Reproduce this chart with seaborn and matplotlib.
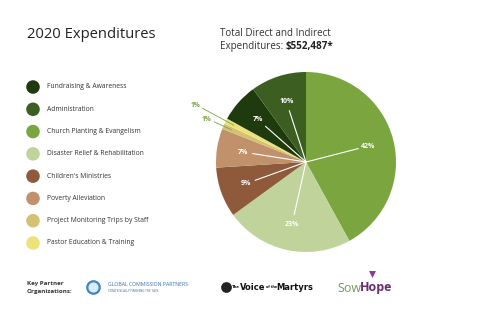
import numpy as np
import matplotlib
matplotlib.use("Agg")
import matplotlib.pyplot as plt
import seaborn as sns

# legend order
categories = ["Fundraising & Awareness", "Administration", "Church Planting & Evangelism",
              "Disaster Relief & Rehabilitation", "Children's Ministries", "Poverty Alleviation",
              "Project Monitoring Trips by Staff", "Pastor Education & Training"]
percents = [7, 10, 42, 23, 9, 7, 1, 1]
colors = ["#1f3b0d", "#3c5f21", "#7ba63f", "#bfd39b", "#8e5a3b", "#c0916a", "#d5c172", "#ece27a"]
title = "2020 Expenditures"
total_line1 = "Total Direct and Indirect"
total_value = "$552,487*"

sns.set_theme(style="white")
plt.rcParams["font.family"] = ["Open Sans", "DejaVu Sans"]

W, H = 480, 320
fig = plt.figure(figsize=(4.8, 3.2), dpi=100)
fig.patch.set_facecolor("white")

# page layer in pixel coordinates
bg = fig.add_axes([0, 0, 1, 1])
bg.set_xlim(0, W)
bg.set_ylim(H, 0)
bg.axis("off")


def after(prev, s, gap=0, **kw):
    # put text s right after the text artist prev
    return bg.annotate(s, xy=(1, 0.5), xycoords=prev, xytext=(gap, 0),
                       textcoords="offset points", va="center", ha="left", **kw)


bg.text(27, 35, title, fontsize=10.6, color="#222222", va="center", ha="left")
bg.text(220, 33, total_line1, fontsize=7.1, color="#333333", va="center")
t = bg.text(220, 46, "Expenditures:", fontsize=7.1, color="#333333", va="center")
after(t, total_value, gap=2, fontsize=7.1, color="#222222", fontweight="bold")

# legend
ys = np.linspace(87, 243, len(categories))
bg.scatter([33] * len(categories), ys, s=95, c=colors, linewidths=0, zorder=3)
for y, name in zip(ys, categories):
    bg.text(47, y, name, fontsize=4.9, color="#333333", va="center")

# partners footer
bg.text(27, 283, "Key Partner", fontsize=4.5, color="#333333", va="center", fontweight="bold")
bg.text(27, 292, "Organizations:", fontsize=4.5, color="#333333", va="center", fontweight="bold")
bg.scatter([93], [287], s=80, facecolors="#dcebf7", edgecolors="#3b86c6", linewidths=1.6)
bg.text(108, 285, "GLOBAL COMMISSION PARTNERS", fontsize=3.7, color="#2f6fae", va="center")
bg.text(108, 290.5, "STRATEGICALLY FINISHING THE TASK", fontsize=2.2, color="#2f6fae", va="center")
bg.scatter([226], [287], s=60, c="#222222", linewidths=0)
cond = ["DejaVu Sans", "DejaVu Sans"]
t = bg.text(232, 287, "The", fontsize=2.8, color="#111111", va="center", fontweight="bold",
            family=cond)
t = after(t, "Voice", fontsize=6, color="#111111", fontweight="bold", family=cond)
t = after(t, "of the", fontsize=2.4, color="#111111", fontweight="bold", family=cond)
after(t, "Martyrs", fontsize=6, color="#111111", fontweight="bold", family=cond)
t = bg.text(337, 288, "Sow", fontsize=9, color="#6f9c55", va="center")
after(t, "Hope", gap=-0.5, fontsize=9, color="#6b2d6e", fontweight="bold")
bg.scatter([372], [274], s=25, c="#8a3a8c", marker="v", linewidths=0)

# pie, clockwise from 12 o'clock starting at Church Planting
order = [2, 3, 4, 5, 6, 7, 0, 1]
vals = [percents[i] for i in order]
cols = [colors[i] for i in order]
cx, cy, r = 306, 162, 90
ax = fig.add_axes([(cx - r) / W, (H - cy - r) / H, 2 * r / W, 2 * r / H])
wedges, _ = ax.pie(vals, colors=cols, startangle=90, counterclock=False,
                   wedgeprops=dict(linewidth=0))
ax.set_xlim(-1, 1)
ax.set_ylim(-1, 1)
ax.set_aspect("equal")
ax.axis("off")

outer = 0
for w, v in zip(wedges, vals):
    th = np.deg2rad((w.theta1 + w.theta2) / 2)
    d = np.array([np.cos(th), np.sin(th)])
    if v > 1:
        lx, ly = 0.71 * d
        ax.plot([0, 0.6 * d[0]], [0, 0.6 * d[1]], color="white", lw=0.8)
        ax.text(lx, ly, f"{v}%", color="white", fontsize=5, fontweight="bold",
                ha="center", va="center")
    else:
        rr = [1.2, 1.38][outer]
        tx, ty = rr * d
        ax.plot([tx + 0.08, 0.9 * d[0]], [ty - 0.03, 0.9 * d[1]], color="#7ba63f", lw=0.6,
                clip_on=False)
        ax.text(tx, ty, f"{v}%", color="#7ba63f", fontsize=4.8, fontweight="bold",
                ha="center", va="center")
        outer += 1

fig.savefig("out.png", dpi=100, facecolor="white")
